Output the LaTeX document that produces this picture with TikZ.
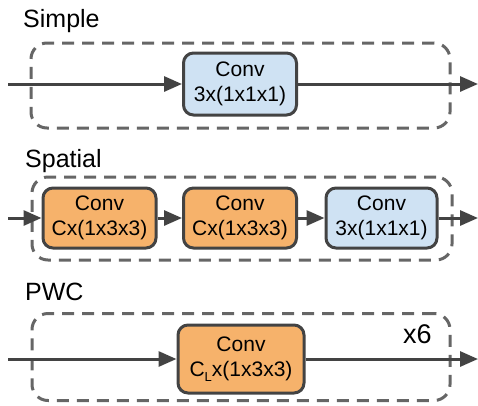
\documentclass[tikz,border=0pt]{standalone}
\usepackage{fontspec}
\setmainfont{Liberation Sans}
\usetikzlibrary{arrows.meta}
\definecolor{orng}{HTML}{F6B26B}
\definecolor{lblue}{HTML}{CFE2F3}
\definecolor{edgec}{HTML}{434343}
\definecolor{dashc}{HTML}{666666}
\begin{document}
\begin{tikzpicture}[x=1pt,y=-1pt,
  conv/.style={draw=edgec, line width=3pt, rounded corners=10pt, inner sep=0pt,
    align=center, font=\fontsize{21}{25}\selectfont, text=black},
  orangebox/.style={conv, fill=orng},
  bluebox/.style={conv, fill=lblue},
  group/.style={draw=dashc, line width=3pt, dash pattern=on 12pt off 8pt,
    rounded corners=16pt, inner sep=0pt},
  lab/.style={anchor=base west, inner sep=0pt, font=\fontsize{25}{25}\selectfont},
  flow/.style={draw=edgec, line width=3pt, -{Triangle[length=18pt,width=15pt]}}]
\useasboundingbox (0,0) rectangle (478,405);

% Simple
\node[lab] (tsimple) at (23,27) {Simple};
\node[group, minimum width=419pt, minimum height=85pt] (g1) at (240.5,85.5) {};
\node[bluebox, minimum width=113pt, minimum height=62pt] (s1) at (240,84) {Conv\\3x(1x1x1)};
\coordinate (s0) at (8,84);
\coordinate (s9) at (478,84);
\draw[flow] (s0) -- (s1.west);
\draw[flow] (s1.east) -- (s9);

% Spatial
\node[lab] (tspatial) at (25,167) {Spatial};
\node[group, minimum width=420pt, minimum height=83pt] (g2) at (242,218.5) {};
\node[orangebox, minimum width=113pt, minimum height=60pt] (p1) at (99.5,218) {Conv\\Cx(1x3x3)};
\node[orangebox, minimum width=113pt, minimum height=60pt] (p2) at (240,218) {Conv\\Cx(1x3x3)};
\node[bluebox, minimum width=111pt, minimum height=60pt] (p3) at (381.5,218) {Conv\\3x(1x1x1)};
\coordinate (p0) at (8,218);
\coordinate (p9) at (478,218);
\draw[flow] (p0) -- (p1.west);
\draw[flow] (p1.east) -- (p2.west);
\draw[flow] (p2.east) -- (p3.west);
\draw[flow] (p3.east) -- (p9);

% PWC
\node[lab] (tpwc) at (25,300) {PWC};
\node[group, minimum width=418pt, minimum height=87pt] (g3) at (241,357) {};
\node[lab, font=\fontsize{27}{27}\selectfont] (tx6) at (403,343) {x6};
\node[orangebox, minimum width=126pt, minimum height=68pt] (w1) at (241,359) {Conv\\C\raisebox{-5pt}{\fontsize{13}{13}\selectfont L}x(1x3x3)};
\coordinate (w0) at (8,359);
\coordinate (w9) at (478,359);
\draw[flow] (w0) -- (w1.west);
\draw[flow] (w1.east) -- (w9);
\end{tikzpicture}
\end{document}
